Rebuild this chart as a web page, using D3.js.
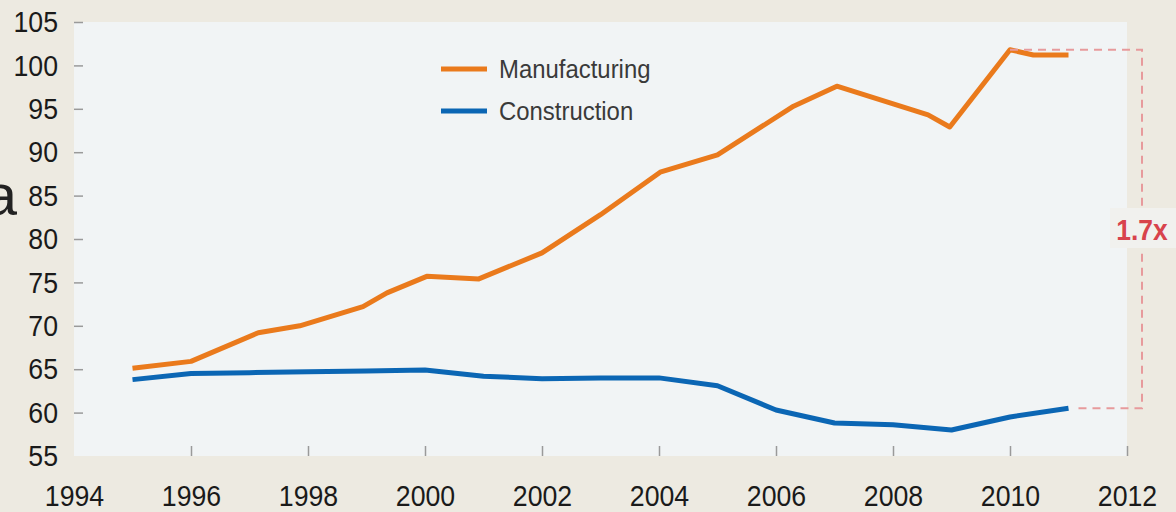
<!DOCTYPE html>
<html>
<head>
<meta charset="utf-8">
<script src="https://cdn.jsdelivr.net/npm/d3@7"></script>
<style>
  html, body { margin: 0; padding: 0; background: #edeae1; }
  svg { display: block; font-family: 'Liberation Sans', Arial, sans-serif; }
  .axis text { fill: #1a1a1a; font-size: 30px; }
  .axis line { stroke: #9a9a9a; stroke-width: 1.5; }
</style>
</head>
<body>
<div id="chart"></div>
<script>
// ─── Data ────────────────────────────────────────────────────────────────
const mfgYears  = [1995, 1996, 1997.15, 1997.86, 1998.94, 1999.35, 2000.03, 2000.92, 2002, 2003, 2004.02, 2005, 2006.3, 2007.04, 2008.6, 2008.97, 2010, 2010.4, 2011];
const mfgValues = [65.1, 65.9, 69.2, 70.0, 72.2, 73.8, 75.7, 75.4, 78.4, 82.8, 87.7, 89.7, 95.3, 97.6, 94.3, 92.9, 101.8, 101.2, 101.2];

const conYears  = [1995, 1996, 1997, 1998, 1999, 2000, 2001, 2002, 2003, 2004, 2005, 2006, 2007, 2008, 2009, 2010, 2011];
const conValues = [63.8, 64.5, 64.6, 64.7, 64.8, 64.9, 64.2, 63.9, 64.0, 64.0, 63.1, 60.3, 58.8, 58.6, 58.0, 59.5, 60.5];

const seriesNames = ['Manufacturing', 'Construction'];
const seriesColors = ['#ea7a1c', '#0b66b4'];
const xTicks = [1994, 1996, 1998, 2000, 2002, 2004, 2006, 2008, 2010, 2012];
const yTicks = [55, 60, 65, 70, 75, 80, 85, 90, 95, 100, 105];
const ratioLabel = '1.7x';

const W = 1176, H = 512;
const PLOT = { left: 74, right: 1127, top: 22, bottom: 456 };

const svg = d3.select('#chart').append('svg')
  .attr('width', W).attr('height', H);

svg.append('rect').attr('width', W).attr('height', H).attr('fill', '#edeae1');

// cut-off letter from surrounding page text
svg.append('text')
  .attr('x', 17).attr('y', 215)
  .attr('text-anchor', 'end')
  .style('font-size', '58px').style('fill', '#222')
  .text('a');

svg.append('rect')
  .attr('x', PLOT.left).attr('y', PLOT.top)
  .attr('width', PLOT.right - PLOT.left).attr('height', PLOT.bottom - PLOT.top)
  .attr('fill', '#f1f4f5');

const x = d3.scaleLinear().domain([1994, 2012]).range([PLOT.left, PLOT.right]);
const y = d3.scaleLinear().domain([55, 105]).range([PLOT.bottom, PLOT.top]);

// axes: short ticks pointing into the panel
svg.append('g').attr('class', 'axis axis--x')
  .attr('transform', `translate(0,${PLOT.bottom})`)
  .call(d3.axisBottom(x).tickValues(xTicks).tickFormat(d3.format('d')).tickSize(-10).tickPadding(29))
  .call(ax => ax.select('.domain').remove())
  .call(ax => ax.selectAll('.tick').filter(d => d === 1994).select('line').remove())
  .call(ax => ax.selectAll('text').attr('transform', 'scale(0.89,1)'));

svg.append('g').attr('class', 'axis axis--y')
  .attr('transform', `translate(${PLOT.left},0)`)
  .call(d3.axisLeft(y).tickValues(yTicks).tickSize(-9).tickPadding(18))
  .call(ax => ax.select('.domain').remove())
  .call(ax => ax.selectAll('.tick').filter(d => d === 55).select('line').remove())
  .call(ax => ax.selectAll('text').attr('transform', 'scale(0.89,1)'));

// ─── Lines ────────────────────────────────────────────────────────────────
const line = d3.line().x(d => x(d[0])).y(d => y(d[1]));
const series = [
  d3.zip(mfgYears, mfgValues),
  d3.zip(conYears, conValues)
];

svg.selectAll('.series')
  .data(series)
  .join('path')
    .attr('class', 'series')
    .attr('d', line)
    .attr('fill', 'none')
    .attr('stroke', (d, i) => seriesColors[i])
    .attr('stroke-width', 5)
    .attr('stroke-linejoin', 'round');

// ─── Legend ───────────────────────────────────────────────────────────────
const legend = svg.append('g').attr('transform', 'translate(441,69)');
seriesNames.forEach((name, i) => {
  const row = legend.append('g').attr('transform', `translate(0,${i * 42})`);
  row.append('line').attr('x1', 0).attr('x2', 46)
    .attr('stroke', seriesColors[i]).attr('stroke-width', 5);
  row.append('text')
    .attr('transform', 'translate(58,0) scale(0.92,1)')
    .attr('dy', '0.36em')
    .style('font-size', '26px').style('fill', '#3a3a3a')
    .text(name);
});

// ─── Ratio annotation ─────────────────────────────────────────────────────
const peakIdx = mfgValues.indexOf(d3.max(mfgValues));
const topVal = mfgValues[peakIdx];
const lastCon = conValues[conValues.length - 1];
const lastYear = conYears[conYears.length - 1];
const bx = 1142;
const dashStyle = sel => sel.attr('stroke', '#e79a9c').attr('stroke-width', 2).attr('stroke-dasharray', '8,6').attr('fill', 'none');

svg.append('path')
  .attr('d', `M${x(mfgYears[peakIdx])},${y(topVal)}H${bx}V${y(lastCon)}H${x(lastYear) + 8}`)
  .call(dashStyle);

svg.append('rect')
  .attr('x', 1110).attr('y', 208).attr('width', 66).attr('height', 40)
  .attr('fill', '#f1f1ee');

svg.append('text')
  .attr('transform', `translate(${bx},${(y(topVal) + y(lastCon)) / 2 + 11}) scale(0.88,1)`)
  .attr('text-anchor', 'middle')
  .style('font-size', '30px').style('font-weight', 'bold').style('fill', '#d8434c')
  .text(ratioLabel);
</script>
</body>
</html>
